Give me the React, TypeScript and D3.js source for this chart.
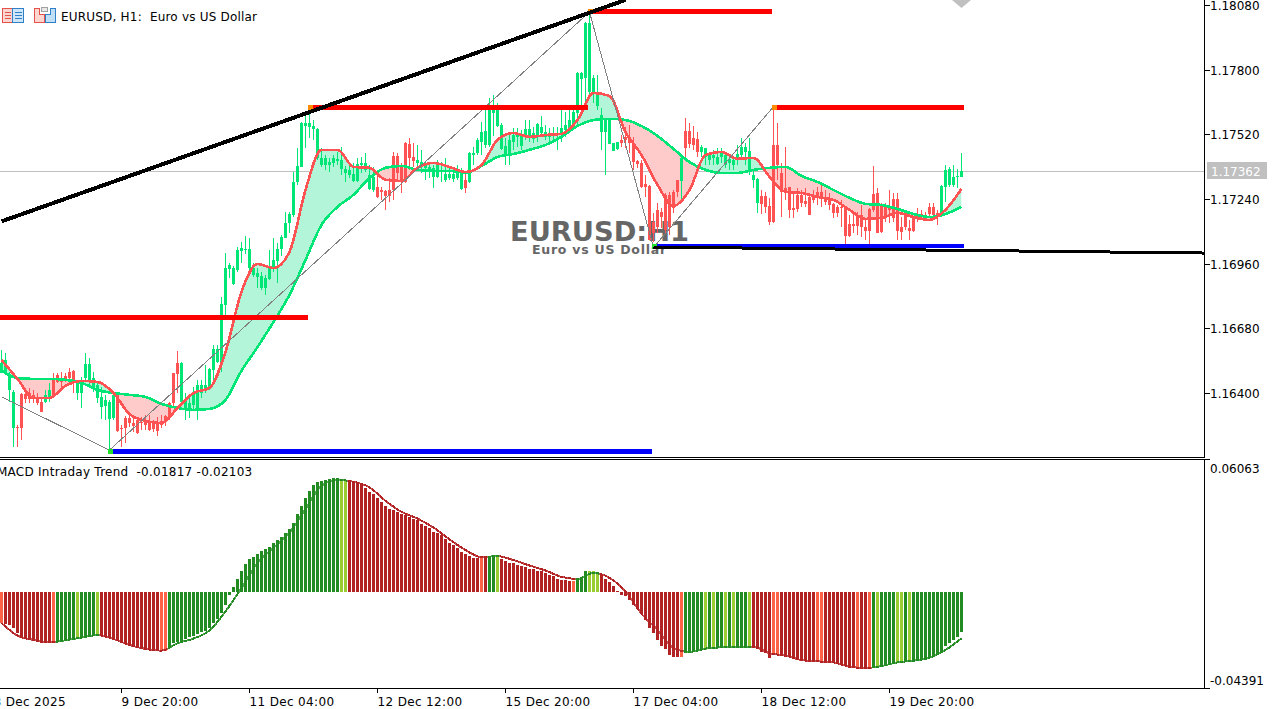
import React from 'react';
import * as d3 from 'd3';

// all prices are stored in 1e-5 points (117362 = 1.17362), MACD values too
const highs = [
  116586,116573,116491,116413,116262,116400,116422,116422,116413,116400,
  116379,116413,116444,116487,116487,116491,116487,116509,116500,116457,
  116470,116573,116552,116491,116448,116426,116392,116370,116405,116400,
  116262,116301,116305,116292,116292,116297,116305,116305,116283,116297,
  116305,116305,116361,116487,116582,116534,116400,116392,116426,116457,
  116457,116522,116509,116608,116608,116816,117007,116963,116950,117032,
  117054,117080,117071,116963,116941,116924,116911,117020,117071,117050,
  117084,117184,117184,117357,117461,117574,117604,117626,117582,117548,
  117461,117431,117418,117431,117444,117466,117383,117387,117396,117418,
  117422,117440,117387,117379,117344,117292,117279,117331,117444,117440,
  117396,117487,117504,117483,117474,117453,117400,117396,117387,117409,
  117400,117418,117379,117366,117387,117375,117357,117444,117466,117504,
  117574,117626,117678,117691,117656,117569,117504,117517,117548,117548,
  117539,117582,117582,117552,117569,117600,117561,117548,117552,117552,
  117626,117617,117639,117639,117790,117790,118007,118046,117777,117777,
  117634,117591,117591,117483,117487,117517,117552,117561,117509,117409,
  117409,117344,117301,117180,117223,117201,117266,117271,117279,117323,
  117422,117591,117569,117556,117530,117474,117461,117444,117453,117461,
  117461,117444,117431,117422,117474,117504,117483,117504,117366,117331,
  117279,117271,117245,117634,117569,117396,117466,117292,117266,117288,
  117279,117288,117266,117279,117292,117310,117279,117266,117223,117214,
  117236,117206,117171,117180,117184,117214,117149,117201,117383,117288,
  117223,117223,117279,117266,117266,117162,117184,117149,117162,117201,
  117193,117184,117223,117223,117193,117301,117387,117379,117387,117370,
  117440,
];
const lows = [
  116487,116478,116361,116167,116167,116197,116357,116357,116357,116348,
  116318,116357,116361,116383,116444,116426,116448,116448,116400,116370,
  116335,116448,116435,116405,116357,116288,116283,116154,116283,116231,
  116167,116184,116253,116231,116223,116240,116240,116236,116231,116214,
  116249,116257,116283,116340,116400,116357,116283,116292,116327,116283,
  116379,116400,116413,116457,116530,116491,116738,116898,116868,116924,
  116963,117002,116933,116903,116855,116846,116825,116890,116924,116877,
  116993,117071,117093,117162,117301,117379,117461,117504,117496,117409,
  117379,117366,117357,117379,117387,117344,117314,117331,117314,117314,
  117353,117357,117279,117271,117245,117236,117193,117227,117236,117323,
  117266,117310,117366,117379,117366,117353,117323,117331,117288,117331,
  117314,117314,117323,117314,117323,117279,117266,117310,117387,117431,
  117431,117461,117466,117513,117552,117453,117387,117387,117453,117466,
  117453,117496,117487,117483,117487,117509,117496,117483,117487,117453,
  117487,117509,117530,117548,117561,117613,117634,117682,117656,117626,
  117453,117344,117478,117448,117453,117466,117461,117440,117366,117375,
  117288,117249,117063,117054,117093,117115,117093,117084,117180,117249,
  117227,117409,117461,117453,117422,117422,117387,117387,117387,117387,
  117396,117375,117366,117366,117387,117422,117387,117344,117288,117180,
  117175,117180,117128,117136,117323,117162,117236,117158,117158,117184,
  117206,117206,117171,117223,117214,117206,117214,117193,117158,117162,
  117119,117045,117076,117093,117084,117076,117063,117045,117184,117093,
  117093,117141,117136,117141,117063,117063,117106,117063,117097,117141,
  117149,117158,117162,117162,117128,117162,117227,117292,117292,117288,
  117336,
];
const opens = [
  116487,116487,116413,116249,116253,116396,116396,116400,116392,116383,
  116361,116361,116383,116457,116478,116465,116474,116491,116496,116400,
  116400,116465,116448,116422,116379,116340,116344,116288,116292,116392,
  116249,116292,116292,116270,116283,116275,116283,116270,116270,116266,
  116279,116301,116357,116487,116530,116361,116327,116335,116348,116335,
  116400,116413,116422,116500,116534,116534,116781,116937,116873,116933,
  117015,117020,116941,116911,116903,116855,116855,116894,116941,116972,
  117024,117071,117136,117171,117314,117379,117556,117552,117543,117418,
  117387,117387,117387,117396,117405,117370,117353,117344,117318,117318,
  117387,117366,117284,117279,117292,117279,117275,117279,117427,117427,
  117383,117483,117478,117422,117396,117387,117375,117366,117336,117336,
  117357,117323,117331,117327,117331,117284,117323,117314,117431,117440,
  117487,117474,117474,117613,117556,117457,117431,117431,117487,117509,
  117470,117517,117509,117500,117517,117526,117509,117509,117513,117517,
  117526,117539,117548,117556,117613,117760,117764,117704,117704,117643,
  117530,117530,117478,117448,117457,117496,117509,117509,117483,117405,
  117396,117305,117297,117141,117193,117184,117258,117258,117271,117323,
  117318,117535,117535,117504,117500,117444,117422,117409,117418,117392,
  117422,117387,117396,117387,117414,117431,117444,117366,117323,117223,
  117253,117253,117210,117474,117474,117353,117288,117292,117201,117258,
  117258,117232,117249,117253,117271,117271,117249,117236,117219,117206,
  117206,117201,117132,117132,117171,117171,117119,117197,117262,117266,
  117214,117214,117201,117240,117240,117119,117175,117115,117162,117175,
  117175,117171,117206,117206,117180,117175,117292,117301,117301,117336,
  117336,
];
const closes = [
  116530,116543,116478,116405,116249,116249,116374,116374,116374,116357,
  116318,116392,116413,116392,116448,116448,116457,116465,116444,116444,
  116448,116526,116526,116465,116435,116383,116370,116361,116392,116236,
  116245,116249,116270,116257,116227,116270,116262,116240,116245,116236,
  116262,116275,116297,116357,116483,116530,116370,116357,116400,116435,
  116435,116435,116504,116591,116591,116786,116941,116955,116941,117020,
  117028,117024,117024,116941,116920,116907,116898,116941,116976,117024,
  117076,117136,117175,117314,117383,117569,117569,117569,117556,117543,
  117418,117418,117400,117418,117414,117409,117370,117366,117348,117392,
  117396,117396,117344,117336,117249,117271,117253,117253,117279,117353,
  117314,117314,117418,117405,117409,117400,117387,117379,117375,117387,
  117366,117348,117348,117348,117366,117357,117288,117440,117440,117496,
  117530,117535,117626,117626,117626,117561,117470,117496,117517,117517,
  117513,117543,117543,117526,117565,117552,117530,117522,117526,117526,
  117548,117561,117582,117617,117786,117786,118002,118002,117764,117699,
  117604,117587,117582,117483,117487,117483,117496,117483,117400,117392,
  117292,117292,117063,117093,117119,117162,117106,117119,117201,117271,
  117418,117461,117478,117474,117444,117466,117461,117431,117431,117422,
  117440,117431,117414,117409,117435,117466,117466,117448,117344,117327,
  117219,117206,117141,117141,117387,117271,117271,117193,117193,117197,
  117223,117219,117171,117236,117249,117249,117227,117214,117180,117180,
  117201,117080,117080,117123,117123,117119,117102,117102,117193,117093,
  117097,117158,117193,117158,117102,117097,117119,117102,117102,117167,
  117162,117167,117175,117171,117171,117297,117366,117370,117336,117340,
  117362,
];

// moving averages, read every 4th bar
const maBars = d3.range(0, 241, 4);
const fastMa = [
  116543,116461,116379,116379,116431,116452,116448,116400,116309,116279,
  116270,116335,116400,116422,116578,116838,116959,116941,117011,117279,
  117453,117453,117379,117375,117323,117318,117375,117396,117379,117357,
  117387,117496,117526,117509,117517,117522,117582,117699,117686,117530,
  117431,117301,117210,117279,117431,117444,117414,117418,117336,117271,
  117266,117249,117236,117193,117154,117158,117180,117162,117149,117193,
  117284,
];
const slowMa = [
  116496,116465,116461,116461,116457,116444,116413,116400,116392,116383,
  116353,116335,116327,116331,116370,116496,116599,116708,116825,116976,
  117128,117206,117258,117331,117375,117383,117366,117362,117362,117353,
  117383,117422,117435,117453,117474,117509,117556,117582,117587,117582,
  117556,117513,117457,117400,117366,117353,117353,117366,117375,117379,
  117340,117314,117279,117245,117219,117214,117197,117175,117162,117175,
  117206,
];

// MACD histogram, one per bar
const macdHist = [
  -1408,-1438,-1515,-1637,-1836,-1989,-2066,-2142,-2173,-2249,
  -2326,-2326,-2295,-2280,-2249,-2249,-2219,-2173,-2173,-2142,
  -2096,-2050,-2020,-1974,-1943,-1974,-2004,-2035,-2096,-2173,
  -2249,-2326,-2356,-2402,-2448,-2479,-2525,-2570,-2601,-2632,
  -2678,-2678,-2555,-2295,-2249,-2203,-2142,-2050,-1989,-1897,
  -1821,-1744,-1637,-1408,-1224,-949,-566,-138,245,612,
  964,1270,1499,1622,1729,1882,1958,2081,2234,2372,
  2540,2723,2876,3182,3565,3947,4284,4636,4896,5049,
  5095,5141,5171,5202,5202,5171,5141,5049,5018,4988,
  4911,4758,4590,4483,4299,4131,3947,3794,3749,3672,
  3565,3519,3458,3366,3290,3137,3029,2922,2754,2693,
  2601,2417,2264,2142,2035,1836,1729,1652,1576,1561,
  1561,1561,1622,1683,1622,1530,1423,1346,1316,1239,
  1224,1163,1086,1071,995,964,887,811,734,612,
  581,551,536,536,627,658,995,995,995,857,
  811,612,459,275,77,-107,-153,-367,-566,-719,
  -979,-1255,-1607,-1867,-2173,-2433,-2586,-2846,-2938,-2968,
  -2938,-2785,-2769,-2708,-2662,-2632,-2616,-2586,-2555,-2540,
  -2540,-2525,-2509,-2479,-2479,-2479,-2448,-2433,-2479,-2586,
  -2708,-2785,-2999,-2861,-2815,-2892,-2892,-2968,-3045,-3091,
  -3152,-3152,-3152,-3152,-3152,-3152,-3167,-3198,-3213,-3228,
  -3274,-3351,-3397,-3443,-3473,-3473,-3519,-3458,-3427,-3397,
  -3381,-3366,-3320,-3244,-3198,-3182,-3167,-3136,-3121,-3106,
  -3091,-3029,-2968,-2907,-2846,-2739,-2433,-2310,-2173,-2020,
  -1817,
];
// r firebrick, t tomato, g forestgreen, y yellowgreen
const macdState = (
  'trrrrrrrrr' + 'rrrtgggggy' + 'ggggyrrrrr' + 'rrrrrrrrrr' + 'ttgggggggg' +
  'gggggggggg' + 'gggggggggg' + 'gggggggggg' + 'gggggyyrrr' + 'rrrrrrrrrr' +
  'rrrrrrrrrr' + 'rrrrrrrrrr' + 'trggyrrrrr' + 'rrrrrrrrrr' + 'rrrtgggyyy' +
  'rrrrrrrrrr' + 'rrrrrrrrrr' + 'tgggggygyg' + 'gygygggyrr' + 'rrrttrrrrr' +
  'rrrrttrrrr' + 'rrrrtrrtgy' + 'ggggyygygg' + 'gggggggggg' + 'g'
).split('');
const macdSignal = [
  -1408,-1974,-2173,-2280,-2188,-2066,-1958,-2127,-2402,-2586,
  -2662,-2326,-2111,-1744,-872,199,1346,2035,2723,3794,
  4865,5126,5049,4789,4177,3672,3366,2953,2417,1928,
  1607,1652,1469,1224,995,704,612,887,658,46,
  -979,-1714,-2540,-2723,-2570,-2509,-2479,-2479,-2785,-2892,
  -3091,-3152,-3198,-3397,-3458,-3366,-3198,-3121,-2984,-2632,
  -2103,
];

// drawn objects: [from bar, to bar, price]
const resistance = [[-0.5, 76.5, 116725], [77, 146.7, 117636], [147, 192.5, 118050], [193, 240.5, 117636]];
const support = [[27, 162.5, 116151], [163, 240.5, 117037]];
const trendUp = [[0, 117143], [156, 118102]];
const trendFlat = [[163, 117032], [301, 117006]];
const zigzag = [[0, 116383], [27, 116153], [147, 118050], [163, 117030], [193, 117640]];
const markerHigh = [[77, 117636], [147, 118050], [193, 117636]];
const markerLow = [[27, 116151], [163, 117037]];

const priceTicks = [118080, 117800, 117520, 117240, 116960, 116680, 116400];
const lastPrice = 117362;
const timeBars = [-2, 30, 62, 94, 126, 158, 190, 222];
const timeLabels = ['8 Dec 2025', '9 Dec 20:00', '11 Dec 04:00', '12 Dec 12:00', '15 Dec 20:00', '17 Dec 04:00', '18 Dec 12:00', '19 Dec 20:00'];

const BULL = '#00E676';
const BEAR = '#FF5252';
const MINT = '#B3F5D8';
const PINK = '#FFCACA';
const macdColors: Record<string, string> = { r: '#B22222', t: '#FF6347', g: '#228B22', y: '#9ACD32' };
const UI_FONT = '"DejaVu Sans", sans-serif';

const axisX = 1204.5;

function App() {
  const x = d3.scaleLinear().domain([0, 240]).range([1.5, 961.5]);
  const y = d3.scaleLinear().domain([116400, 118080]).range([393, 5]);
  const yM = d3.scaleLinear().domain([-4391, 6063]).range([688.5, 459.5]);

  const fastLine = d3.line<number>().x((_, i) => x(maBars[i])).y(d => y(d)).curve(d3.curveMonotoneX);
  const slowLine = d3.line<number>().x((_, i) => x(maBars[i])).y(d => y(d)).curve(d3.curveMonotoneX);
  const between = d3.area<number>().x((_, i) => x(maBars[i])).y0((_, i) => y(slowMa[i])).y1(d => y(d)).curve(d3.curveMonotoneX);
  const belowFast = d3.area<number>().x((_, i) => x(maBars[i])).y0(457).y1(d => y(d)).curve(d3.curveMonotoneX);
  const aboveFast = d3.area<number>().x((_, i) => x(maBars[i])).y0(0).y1(d => y(d)).curve(d3.curveMonotoneX);
  const signalLine = d3.line<number>().x((_, i) => x(maBars[i])).y(d => yM(d)).curve(d3.curveMonotoneX);
  const polyline = d3.line<number[]>().x(d => x(d[0])).y(d => y(d[1]));

  return (
    <svg width={1279} height={709} style={{ position: 'fixed', left: 0, top: 0, background: '#fff' }} fontFamily={UI_FONT} fontSize={12}>
      <defs>
        <clipPath id="main"><rect x={0} y={0} width={axisX} height={457} /></clipPath>
        <clipPath id="underFast"><path d={belowFast(fastMa) || ''} /></clipPath>
        <clipPath id="overFast"><path d={aboveFast(fastMa) || ''} /></clipPath>
        <clipPath id="signalUp">
          {macdState.map((s, i) => (s === 'g' || s === 'y') && <rect key={i} x={x(i) - 2} y={459} width={4} height={229} />)}
        </clipPath>
        <clipPath id="signalDown">
          {macdState.map((s, i) => (s === 'r' || s === 't') && <rect key={i} x={x(i) - 2} y={459} width={4} height={229} />)}
        </clipPath>
      </defs>

      {/* main panel */}
      <g clipPath="url(#main)">
        <line x1={0} x2={axisX} y1={Math.round(y(lastPrice)) + 0.5} y2={Math.round(y(lastPrice)) + 0.5} stroke="#C0C0C0" />
        <path d={between(fastMa) || ''} fill={MINT} clipPath="url(#underFast)" />
        <path d={between(fastMa) || ''} fill={PINK} clipPath="url(#overFast)" />

        <text x={510} y={241} fontFamily="'DejaVu Sans', sans-serif" fontWeight="bold" fontSize={27.3} fill="#666666">EURUSD:H1</text>
        <text x={532} y={254} fontFamily="'DejaVu Sans', sans-serif" fontWeight="bold" fontSize={12.5} letterSpacing={0.75} fill="#666666">Euro vs US Dollar</text>

        <g shapeRendering="crispEdges">
          {highs.map((h, i) => {
            const up = closes[i] >= opens[i];
            const top = Math.round(y(Math.max(opens[i], closes[i])));
            const bot = Math.round(y(Math.min(opens[i], closes[i])));
            const color = up ? BULL : BEAR;
            return (
              <g key={i} fill={color}>
                <rect x={x(i) - 0.5} y={Math.round(y(h))} width={1} height={Math.max(1, Math.round(y(lows[i])) - Math.round(y(h)))} />
                <rect x={x(i) - 1.5} y={top} width={3} height={Math.max(1, bot - top)} />
              </g>
            );
          })}
        </g>

        <g shapeRendering="crispEdges" fill="none">
          <path d={slowLine(slowMa) || ''} stroke={BULL} strokeWidth={2.6} />
          <path d={fastLine(fastMa) || ''} stroke={BEAR} strokeWidth={2.6} />
          <path d={polyline(zigzag) || ''} stroke="#808080" strokeWidth={1} />
        </g>

        <g shapeRendering="crispEdges">
          {resistance.map((d, i) => <rect key={i} x={x(d[0])} y={y(d[2]) - 2.5} width={x(d[1]) - x(d[0])} height={5} fill="#FF0000" />)}
          {support.map((d, i) => <rect key={i} x={x(d[0])} y={y(d[2]) - 2} width={x(d[1]) - x(d[0])} height={i === 0 ? 5 : 4} fill="#0000FF" />)}
          {markerHigh.map((d, i) => <rect key={i} x={x(d[0]) - 2} y={y(d[1]) - 2.5} width={5} height={5} fill="#FF8C00" />)}
          {markerLow.map((d, i) => <rect key={i} x={x(d[0]) - 2} y={y(d[1]) - 2} width={5} height={5} fill="#22E02C" />)}
          <path d={polyline(trendUp) || ''} fill="none" stroke="#000" strokeWidth={4} />
          <path d={polyline(trendFlat) || ''} fill="none" stroke="#000" strokeWidth={3} />
        </g>

        <polygon points="952,0 971,0 961.5,8" fill="#C0C0C0" />
      </g>

      {/* title and icons */}
      <g shapeRendering="crispEdges">
        <rect x={2.5} y={8.5} width={10} height={14} fill="#FBD5D0" stroke="#E4504A" />
        <rect x={12.5} y={8.5} width={11} height={14} fill="#CFE6F8" stroke="#2F80C8" />
        {[12, 15, 18].map(v => (
          <g key={v}>
            <line x1={5} x2={11} y1={v + 0.5} y2={v + 0.5} stroke="#E4504A" />
            <line x1={15} x2={22} y1={v + 0.5} y2={v + 0.5} stroke="#2F80C8" />
          </g>
        ))}
        <path d="M34.5 8.5 H39.5 V14.5 H44.5 V22.5 H34.5 Z" fill="#FFD6CF" stroke="#E4504A" />
        <path d="M45.5 14.5 H50.5 V8.5 H55.5 V22.5 H45.5 Z" fill="#BFDFF6" stroke="#2F80C8" />
        <rect x={41.5} y={7.5} width={6} height={4} fill="#E8E8E8" stroke="#A0A0A0" />
      </g>
      <text x={61} y={21} fill="#000" letterSpacing={0.2} style={{ whiteSpace: 'pre' }}>EURUSD, H1:  Euro vs US Dollar</text>

      {/* price axis */}
      <g shapeRendering="crispEdges" stroke="#000">
        <line x1={axisX} x2={axisX} y1={0} y2={457.5} />
        <line x1={0} x2={axisX} y1={457.5} y2={457.5} />
        <line x1={axisX} x2={axisX} y1={459.5} y2={688.5} />
        <line x1={0} x2={axisX} y1={459.5} y2={459.5} />
        <line x1={0} x2={axisX} y1={688.5} y2={688.5} />
        {priceTicks.map(t => <line key={t} x1={axisX} x2={axisX + 5} y1={Math.round(y(t)) + 0.5} y2={Math.round(y(t)) + 0.5} />)}
        <line x1={axisX} x2={axisX + 5} y1={459.5} y2={459.5} />
        <line x1={axisX} x2={axisX + 5} y1={688.5} y2={688.5} />
        {timeBars.map(b => <line key={b} x1={x(b)} x2={x(b)} y1={688} y2={693} />)}
      </g>
      {priceTicks.map(t => (
        <text key={t} x={1210} y={y(t) + 5} fill="#000">{(t / 1e5).toFixed(5)}</text>
      ))}
      <rect x={1207} y={162} width={60} height={17} fill="#C0C0C0" />
      <text x={1211} y={y(lastPrice) + 5} fill="#fff">{(lastPrice / 1e5).toFixed(5)}</text>

      {/* MACD panel */}
      <text x={-3} y={476} fill="#000" letterSpacing={0.25} style={{ whiteSpace: 'pre' }}>MACD Intraday Trend  -0.01817 -0.02103</text>
      <g shapeRendering="crispEdges">
        {macdHist.map((v, i) => {
          const top = Math.round(yM(Math.max(v, 0)));
          const bot = Math.round(yM(Math.min(v, 0)));
          return <rect key={i} x={x(i) - 1.5} y={top} width={3} height={Math.max(1, bot - top)} fill={macdColors[macdState[i]]} />;
        })}
      </g>
      <g shapeRendering="crispEdges" fill="none">
        <path d={signalLine(macdSignal) || ''} stroke={macdColors.g} strokeWidth={2} clipPath="url(#signalUp)" />
        <path d={signalLine(macdSignal) || ''} stroke={macdColors.r} strokeWidth={2} clipPath="url(#signalDown)" />
      </g>
      <text x={1210} y={473} fill="#000">0.06063</text>
      <text x={1210} y={685} fill="#000">-0.04391</text>

      {timeBars.map((b, i) => (
        <text key={b} x={x(b)} y={706} fill="#000" letterSpacing={0.35}>{timeLabels[i]}</text>
      ))}
    </svg>
  );
}

export default App;
